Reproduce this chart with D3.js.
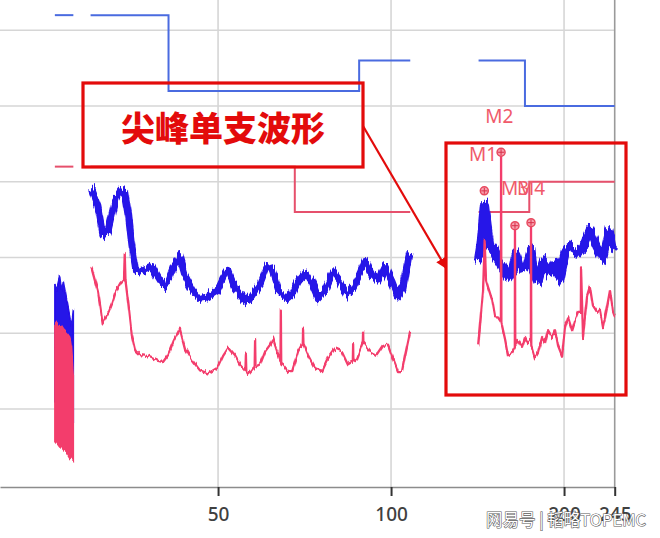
<!DOCTYPE html>
<html><head><meta charset="utf-8">
<script src="https://cdn.jsdelivr.net/npm/d3@7"></script>
<style>html,body{margin:0;padding:0;background:#fff;} svg{display:block;}</style>
</head><body>
<svg id="chart" width="660" height="538"></svg>
<script>
// ---- data (frequency in MHz, level in dBµV) ----
const xTicks = [50, 100, 200, 245];
const yGrid = [10, 20, 30, 40, 50, 60];

const peakLimit = [
  [[26, 62], [28, 62]],
  [[30, 62], [41, 62], [41, 52], [88, 52], [88, 56], [108, 56]],
  [[142, 56], [171, 56], [171, 50], [245, 50]]
];
const avgLimit = [
  [[26, 42], [28, 42]],
  [[30, 42], [68, 42], [68, 36], [108, 36]],
  [[142, 36], [174, 36], [174, 40], [245, 40]]
];

// band 1 (26-28 MHz): dense noisy block
const band1F         = [26.0, 26.2, 26.5, 26.7, 26.9, 27.3, 27.6, 27.8, 28.0];
const band1PeakTop   = [26.5, 25.9, 27.5, 25.5, 26.8, 24.2, 22.3, 21.0, 23.3];
const band1AvgTop    = [21.0, 21.3, 20.8, 20.9, 20.5, 20.0, 19.5, 18.0, 14.5];
const band1AvgBottom = [5.8, 5.5, 5.0, 4.8, 4.5, 4.2, 3.6, 3.4, 3.2];

// band 2 (30-108 MHz)
const band2PeakF = [30.1, 30.9, 31.5, 32.2, 32.7, 33.1, 33.8, 34.4, 34.9, 35.4, 35.9, 36.6, 37.6, 38.4, 39.2, 40.1, 40.9, 41.8, 42.9, 43.8, 45.1, 46.5, 48.0, 49.8, 51.0, 52.0, 53.5, 55.3, 56.4, 57.5, 59.2, 60.8, 62.1, 63.6, 65.9, 67.3, 68.9, 70.8, 72.9, 74.6, 76.8, 79.3, 81.5, 83.8, 85.9, 88.3, 90.1, 92.7, 94.9, 97.6, 100.4, 102.8, 104.9, 107.0, 107.9];
const band2PeakV = [39.0, 36.7, 33.1, 33.5, 35.7, 37.5, 38.8, 38.6, 35.7, 31.4, 28.5, 28.1, 28.5, 28.8, 27.5, 26.3, 26.8, 28.8, 30.1, 27.6, 25.8, 24.6, 24.8, 25.6, 27.3, 28.3, 25.9, 24.6, 24.2, 25.2, 26.5, 28.8, 28.3, 25.9, 24.6, 25.2, 26.9, 28.0, 26.5, 24.7, 25.8, 28.1, 26.9, 25.2, 26.1, 27.9, 29.6, 27.6, 26.9, 28.8, 26.8, 24.8, 25.9, 29.6, 30.9];

const band2AvgF = [30.1, 30.9, 31.5, 32.2, 32.7, 33.1, 33.8, 34.3, 34.4, 34.5, 34.9, 35.4, 35.9, 36.6, 37.6, 38.4, 39.2, 40.1, 40.9, 41.8, 42.9, 43.8, 45.1, 46.5, 48.0, 49.8, 51.0, 52.0, 53.5, 54.6, 55.8, 55.9, 56.0, 56.4, 57.9, 58.0, 58.1, 59.2, 60.4, 61.6, 62.3, 64.2, 64.3, 64.4, 64.9, 66.2, 67.3, 68.9, 70.2, 70.3, 70.4, 71.7, 73.7, 75.9, 77.7, 79.9, 82.2, 84.2, 85.8, 85.9, 86.0, 87.3, 89.3, 89.4, 89.5, 91.9, 94.5, 96.8, 98.8, 100.8, 102.8, 104.5, 105.8, 107.9];
const band2AvgV = [28.8, 25.6, 21.3, 22.6, 23.9, 25.2, 26.5, 27.0, 30.6, 27.0, 23.9, 19.7, 17.7, 17.1, 17.0, 16.7, 16.4, 16.2, 17.1, 18.9, 20.6, 18.0, 16.4, 15.1, 14.7, 15.4, 17.1, 18.1, 17.0, 15.8, 15.0, 17.3, 15.0, 14.6, 15.6, 19.1, 15.6, 15.9, 17.6, 18.5, 19.3, 16.3, 23.0, 16.0, 15.8, 15.0, 15.0, 17.6, 18.7, 20.6, 18.5, 17.1, 15.4, 15.0, 16.7, 18.0, 17.6, 15.9, 16.3, 18.7, 16.3, 16.7, 18.7, 20.2, 18.7, 17.6, 17.1, 18.3, 18.5, 16.7, 15.0, 15.0, 17.1, 20.2];

// band 3 (142-245 MHz)
const band3PeakF = [141.8, 143.4, 145.5, 146.9, 148.7, 151.1, 152.9, 156.6, 159.8, 163.0, 165.0, 167.7, 172.4, 175.2, 176.6, 180.2, 183.9, 189.1, 192.9, 196.8, 200.8, 204.8, 210.7, 216.0, 221.9, 228.3, 233.8, 239.5, 242.4, 245.0];
const band3PeakV = [29.4, 31.7, 36.9, 34.3, 31.4, 30.7, 29.9, 28.6, 27.4, 28.6, 30.3, 28.6, 28.9, 31.0, 28.4, 27.0, 29.3, 28.0, 29.4, 27.3, 30.3, 31.4, 30.7, 31.4, 33.6, 31.4, 29.9, 33.4, 31.4, 31.0];

const band3AvgF = [141.8, 144.6, 145.5, 146.3, 147.5, 149.9, 151.7, 153.5, 155.3, 155.4, 155.6, 157.9, 159.8, 162.4, 164.2, 164.3, 164.5, 166.3, 169.0, 171.1, 173.1, 175.1, 175.2, 175.4, 178.0, 180.2, 183.2, 185.3, 187.6, 190.6, 192.9, 195.3, 198.4, 200.8, 203.2, 206.5, 209.0, 211.5, 213.9, 214.1, 215.8, 219.3, 221.9, 224.6, 228.2, 231.0, 233.8, 237.6, 240.5, 243.4, 245.0];
const band3AvgV = [18.4, 25.7, 32.3, 27.0, 26.1, 24.4, 22.1, 22.1, 21.5, 43.9, 21.4, 19.2, 17.1, 17.4, 18.1, 34.2, 18.4, 19.1, 18.2, 19.5, 18.7, 19.1, 34.6, 18.4, 16.7, 17.4, 19.5, 18.7, 20.4, 19.5, 20.4, 18.2, 16.9, 20.8, 22.1, 20.4, 21.7, 22.7, 22.7, 28.7, 19.5, 24.8, 26.1, 23.5, 22.7, 23.1, 20.8, 23.5, 25.7, 22.7, 22.1];

// markers
const markerF = [145.3, 155.4, 164.3, 175.2];
const markerV = [38.8, 43.9, 34.2, 34.6];

// ---- drawing ----
const svg = d3.select("#chart");
const plotBottom = 487;
const x = d3.scaleLog().domain([20.87, 245]).range([0, 614.7]);
const y = d3.scaleLinear().domain([-0.3, 64]).range([plotBottom, 0]);

// visual "receiver noise" texture: vertical-only jitter of the drawn strokes
const defs = svg.append("defs");
function jitterFilter(id, scale, seed) {
  const f = defs.append("filter").attr("id", id)
    .attr("filterUnits", "userSpaceOnUse").attr("x", 0).attr("y", 0).attr("width", 660).attr("height", 538);
  f.append("feTurbulence").attr("type", "fractalNoise").attr("baseFrequency", "0.45 0.03")
    .attr("numOctaves", 2).attr("seed", seed).attr("result", "n");
  f.append("feColorMatrix").attr("in", "n").attr("type", "matrix")
    .attr("values", "0 0 0 0 0.5  0 1 0 0 0  0 0 0 0 0  0 0 0 0 1").attr("result", "m");
  f.append("feDisplacementMap").attr("in", "SourceGraphic").attr("in2", "m")
    .attr("scale", scale).attr("xChannelSelector", "R").attr("yChannelSelector", "G");
}
jitterFilter("jb", 17, 3);
jitterFilter("jp", 8, 7);

const gridColor = "#d6d6d6";
svg.append("g").selectAll("line").data(yGrid).join("line")
  .attr("x1", 0).attr("x2", x(245))
  .attr("y1", d => y(d)).attr("y2", d => y(d))
  .attr("stroke", gridColor).attr("stroke-width", 1.6);
svg.append("g").selectAll("line").data(xTicks.slice(0, 3)).join("line")
  .attr("x1", d => x(d)).attr("x2", d => x(d))
  .attr("y1", 0).attr("y2", plotBottom)
  .attr("stroke", gridColor).attr("stroke-width", 1.6);
svg.append("line").attr("x1", x(245)).attr("x2", x(245)).attr("y1", 0).attr("y2", plotBottom)
  .attr("stroke", "#9a9a9a").attr("stroke-width", 1.6);

const axis = svg.append("g").attr("transform", `translate(0,${plotBottom})`)
  .call(d3.axisBottom(x).tickValues(xTicks).tickSize(9).tickSizeOuter(0).tickFormat(d3.format("d")));
axis.select(".domain").attr("stroke", "#8c8c8c").attr("stroke-width", 1.6);
axis.selectAll(".tick line").attr("stroke", "#333").attr("stroke-width", 2);
axis.selectAll(".tick text").attr("y", 34).attr("dy", 0)
  .attr("font-family", "'Noto Sans', 'Open Sans', sans-serif").attr("font-size", 19)
  .attr("font-weight", 500).attr("fill", "#404040");

const line = d3.line().x(d => x(d[0])).y(d => y(d[1]));

peakLimit.forEach(run => svg.append("path").attr("d", line(run))
  .attr("fill", "none").attr("stroke", "#4a6be0").attr("stroke-width", 2));
avgLimit.forEach(run => svg.append("path").attr("d", line(run))
  .attr("fill", "none").attr("stroke", "#e6506c").attr("stroke-width", 2));

const blue = "#2612e8", pink = "#f33d6c";
const zip = (a, b) => a.map((v, i) => [v, b[i]]);

// band 1 areas
const b1 = band1F.map((f, i) => ({f, pt: band1PeakTop[i], at: band1AvgTop[i], ab: band1AvgBottom[i]}));
svg.append("path").datum(b1)
  .attr("d", d3.area().x(d => x(d.f)).y0(d => y(d.ab) - 40).y1(d => y(d.pt)))
  .attr("fill", blue).attr("stroke", blue).attr("stroke-width", 1.5).attr("filter", "url(#jp)");
svg.append("path").datum(b1)
  .attr("d", d3.area().x(d => x(d.f)).y0(d => y(d.ab)).y1(d => y(d.at)))
  .attr("fill", pink).attr("stroke", pink).attr("stroke-width", 1.5).attr("filter", "url(#jp)");

// peak traces
const gBlue = svg.append("g").attr("filter", "url(#jb)");
gBlue.append("path").attr("d", line(zip(band2PeakF, band2PeakV)))
  .attr("fill", "none").attr("stroke", blue).attr("stroke-width", 7).attr("stroke-linejoin", "round");
gBlue.append("path").attr("d", line(zip(band3PeakF, band3PeakV)))
  .attr("fill", "none").attr("stroke", blue).attr("stroke-width", 9).attr("stroke-linejoin", "round");

// average traces
const gPink = svg.append("g").attr("filter", "url(#jp)");
gPink.append("path").attr("d", line(zip(band2AvgF, band2AvgV)))
  .attr("fill", "none").attr("stroke", pink).attr("stroke-width", 2.3).attr("stroke-linejoin", "round");
gPink.append("path").attr("d", line(zip(band3AvgF, band3AvgV)))
  .attr("fill", "none").attr("stroke", pink).attr("stroke-width", 2.3).attr("stroke-linejoin", "round");

// markers
const mk = svg.append("g");
markerF.forEach((f, i) => {
  const cx = x(f), cy = y(markerV[i]);
  mk.append("circle").attr("cx", cx).attr("cy", cy).attr("r", 4)
    .attr("fill", "#f7a0ae").attr("stroke", "#e8485e").attr("stroke-width", 1.5);
  mk.append("path").attr("d", `M${cx-3},${cy}H${cx+3}M${cx},${cy-3}V${cy+3}`)
    .attr("stroke", "#d8304a").attr("stroke-width", 1);
});
const mFont = "'Noto Sans', 'Open Sans', sans-serif";
const mColor = "#f05a6a";
const labels = [
  {t: "M1", x: x(markerF[1]) - 32, y: y(markerV[1]) + 9},
  {t: "M2", x: x(markerF[0]) + 1, y: 123},
  {t: "M3", x: x(markerF[1]), y: 195},
  {t: "M4", x: x(markerF[1]) + 16, y: 195}
];
svg.append("g").selectAll("text").data(labels).join("text")
  .attr("x", d => d.x).attr("y", d => d.y).text(d => d.t)
  .attr("font-family", mFont).attr("font-size", 19).attr("fill", mColor);

// annotation boxes
const red = "#e30b0b";
svg.append("rect").attr("x", 83).attr("y", 83).attr("width", 280).attr("height", 84)
  .attr("fill", "none").attr("stroke", red).attr("stroke-width", 3.2);
svg.append("text").attr("x", 223).attr("y", 126).attr("text-anchor", "middle")
  .attr("dominant-baseline", "central")
  .attr("font-family", "'Noto Sans CJK SC', sans-serif").attr("font-weight", 900)
  .attr("font-size", 34).attr("fill", red).text("尖峰单支波形");
svg.append("rect").attr("x", 446).attr("y", 143).attr("width", 180).attr("height", 252)
  .attr("fill", "none").attr("stroke", red).attr("stroke-width", 3.2);

defs.append("marker").attr("id", "arr")
  .attr("viewBox", "0 0 10 10").attr("refX", 9).attr("refY", 5)
  .attr("markerWidth", 5).attr("markerHeight", 5).attr("orient", "auto")
  .append("path").attr("d", "M0,0L10,5L0,10z").attr("fill", red);
svg.append("line").attr("x1", 363).attr("y1", 126).attr("x2", 446).attr("y2", 268)
  .attr("stroke", red).attr("stroke-width", 2.2).attr("marker-end", "url(#arr)");

// watermark
svg.append("text").attr("x", 486).attr("y", 526)
  .attr("font-family", "'Noto Sans CJK SC', sans-serif").attr("font-size", 16.5)
  .attr("fill", "#ffffff").attr("stroke", "#5a5a5a").attr("stroke-width", 1.1)
  .attr("paint-order", "stroke").text("网易号 | 韬略TOPEMC");
</script>
</body></html>
